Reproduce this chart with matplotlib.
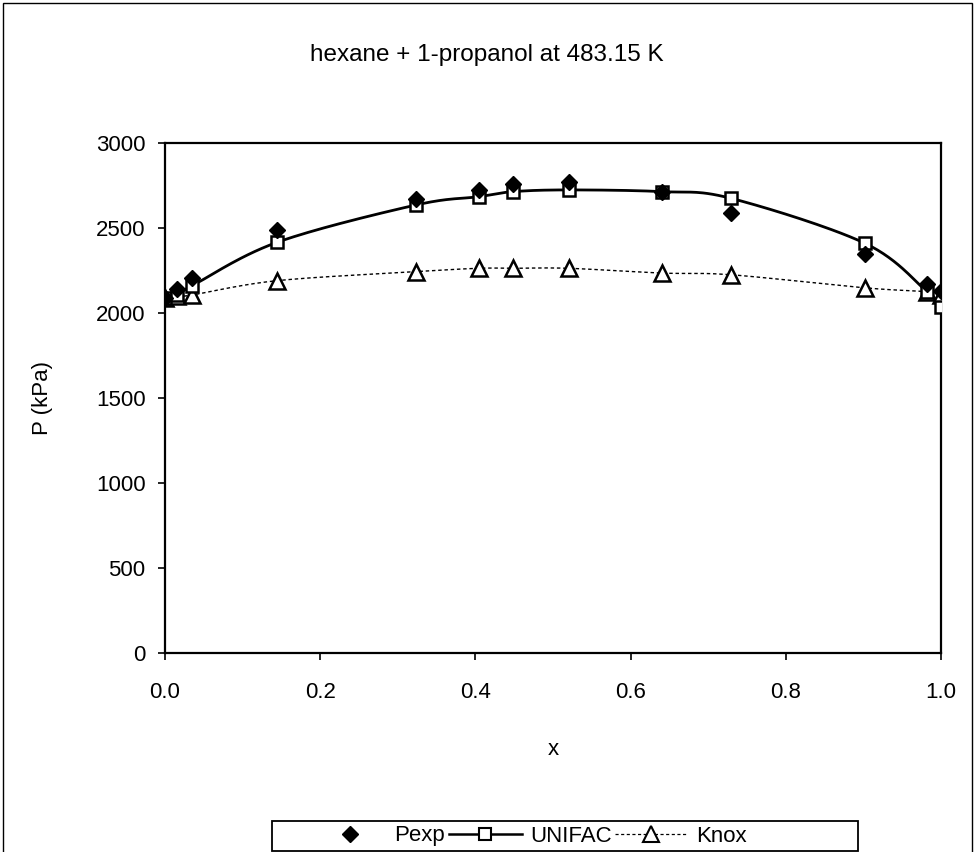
import numpy as np
import matplotlib.pyplot as plt
from matplotlib.patches import Rectangle

plt.rcParams['font.family'] = ['Liberation Sans', 'DejaVu Sans']

# mole fraction of hexane
x = [0.0, 0.015, 0.035, 0.144, 0.323, 0.404, 0.449, 0.520, 0.640, 0.729, 0.902, 0.982, 1.0]
# pressures in kPa
p_exp = [2086, 2140, 2204, 2488, 2670, 2724, 2759, 2773, 2712, 2590, 2345, 2168, 2128]
p_unifac = [2088, 2105, 2160, 2415, 2635, 2684, 2714, 2724, 2714, 2675, 2410, 2125, 2035]
p_knox = [2088, 2098, 2106, 2190, 2243, 2263, 2263, 2263, 2235, 2225, 2148, 2125, 2106]

xticks = [0.0, 0.2, 0.4, 0.6, 0.8, 1.0]
yticks = [0, 500, 1000, 1500, 2000, 2500, 3000]


def smooth(xs, ys, n=30):
    # bezier smoothing through the points, like a spreadsheet "smoothed line"
    xs = np.asarray(xs, float)
    ys = np.asarray(ys, float)
    pts = np.column_stack([xs, ys])
    m = len(pts)
    out = []
    t = np.linspace(0, 1, n)[:, None]
    for i in range(m - 1):
        p0 = pts[i]
        p3 = pts[i + 1]
        prev = pts[i - 1] if i > 0 else pts[i]
        nxt = pts[i + 2] if i + 2 < m else pts[i + 1]
        c1 = p0 + (p3 - prev) / 6.0
        c2 = p3 - (nxt - p0) / 6.0
        seg = ((1 - t) ** 3) * p0 + 3 * ((1 - t) ** 2) * t * c1 + 3 * (1 - t) * t ** 2 * c2 + t ** 3 * p3
        out.append(seg if i == 0 else seg[1:])
    seg = np.vstack(out)
    return seg[:, 0], seg[:, 1]


fig = plt.figure(figsize=(9.74, 8.52), dpi=100)
ax = fig.add_axes([165 / 974, 1 - 653 / 852, 776 / 974, 510 / 852])

ux, uy = smooth(x, p_unifac)
kx, ky = smooth(x, p_knox)

ax.plot(ux, uy, color='black', lw=2.0, zorder=2)
ax.plot(kx, ky, color='black', lw=1.0, ls=(0, (2.5, 2)), zorder=2)
ax.plot(x, p_knox, ls='none', marker='^', ms=11, mfc='white', mec='black', mew=1.8, zorder=3)
ax.plot(x, p_unifac, ls='none', marker='s', ms=8, mfc='white', mec='black', mew=1.8, zorder=3)
ax.plot(x, p_exp, ls='none', marker='D', ms=8, color='black', zorder=4)

ax.set_xlim(0, 1)
ax.set_ylim(0, 3000)
ax.set_xticks(xticks)
ax.set_xticklabels(['%.1f' % v for v in xticks])
ax.set_yticks(yticks)
ax.tick_params(direction='out', length=5, width=1.2, labelsize=16, color='black')
ax.tick_params(axis='x', pad=16)
ax.tick_params(axis='y', pad=9)
for s in ax.spines.values():
    s.set_linewidth(1.6)
    s.set_color('black')

ax.set_xlabel('x', fontsize=16, labelpad=26)
ax.set_ylabel('P (kPa)', fontsize=16, labelpad=31)
fig.text(0.5, 1 - 55 / 852, 'hexane + 1-propanol at 483.15 K', ha='center', va='center', fontsize=17.5)

# legend handles
h1, = ax.plot([], [], ls='none', marker='D', ms=8, color='black')
h2, = ax.plot([], [], color='black', lw=1.8, marker='s', ms=8, mfc='white', mec='black', mew=1.5)
h3, = ax.plot([], [], color='black', lw=0.9, ls=(0, (2.5, 2)), marker='^', ms=11, mfc='white', mec='black', mew=1.5)
leg = fig.legend([h1, h2, h3], ['Pexp', 'UNIFAC', 'Knox'], loc='center',
                 bbox_to_anchor=(530 / 974, 1 - 836 / 852), ncol=3, fontsize=16, frameon=False,
                 handlelength=3.3, handletextpad=0.35, columnspacing=0.15, borderpad=0.0)

# legend box, wider than the entries
fig.patches.append(Rectangle((272 / 974, 1 - 851 / 852), 586 / 974, 30 / 852, transform=fig.transFigure,
                             fill=False, edgecolor='black', lw=1.3))

# outer border around the chart area
fig.patches.append(Rectangle((0.003, -0.01), 0.995, 1.006, transform=fig.transFigure,
                             fill=False, edgecolor='black', lw=1.0))

fig.savefig('out.png', dpi=100)
